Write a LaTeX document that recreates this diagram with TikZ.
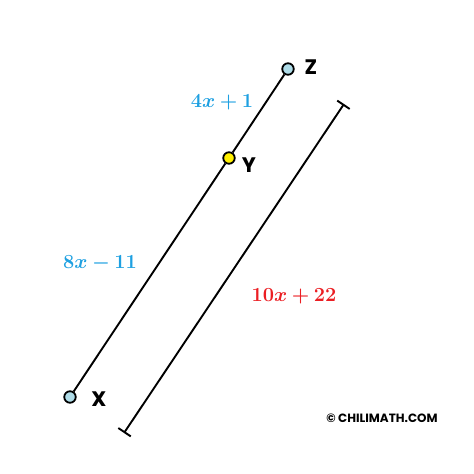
\documentclass[tikz,border=0pt]{standalone}
\usepackage{fix-cm}
\usepackage{amsmath,bm}
\usepackage{fontspec}
\setsansfont{Poppins}
\usetikzlibrary{arrows.meta}
\definecolor{lenblue}{RGB}{30,160,225}
\definecolor{lenred}{RGB}{235,30,35}
\definecolor{ptblue}{RGB}{175,220,232}
\definecolor{ptyellow}{RGB}{255,240,0}

\begin{document}
\begin{tikzpicture}[x=1pt,y=1pt,
    pt/.style={circle,draw,line width=1.8pt,inner sep=0pt,minimum size=11.5pt},
    ptlabel/.style={font=\sffamily\bfseries\fontsize{21}{21}\selectfont},
    len/.style={font=\fontsize{20}{20}\selectfont},
    >=Latex]
    \useasboundingbox (0,0) rectangle (474,474);
    % points on the segment
    \node[pt,fill=ptblue] (X) at (70,77) {};
    \node[pt,fill=ptyellow] (Y) at (229,316) {};
    \node[pt,fill=ptblue] (Z) at (288,405) {};
    \draw[line width=1.9pt] (X) -- (Y) -- (Z);
    \node[ptlabel] (lx) at (99,75) {X};
    \node[ptlabel] (ly) at (249,309) {Y};
    \node[ptlabel] (lz) at (311,407) {Z};
    % whole length
    \coordinate (b1) at (124,41);
    \coordinate (b2) at (344,370);
    \draw[line width=1.9pt,{Bar[width=15pt,line width=1.9pt]}-{Bar[width=15pt,line width=1.9pt]}] (b1) -- (b2);
    % lengths
    \node[len,text=lenblue] (l1) at (222,372) {$\bm{4x+1}$};
    \node[len,text=lenblue] (l2) at (100,211) {$\bm{8x-11}$};
    \node[len,text=lenred] (l3) at (294,178) {$\bm{10x+22}$};
    \node[font=\sffamily\fontsize{12}{12}\selectfont] (copy) at (382,56) {\textbf{\textcopyright{} CHILIMATH.COM}};
\end{tikzpicture}
\end{document}
